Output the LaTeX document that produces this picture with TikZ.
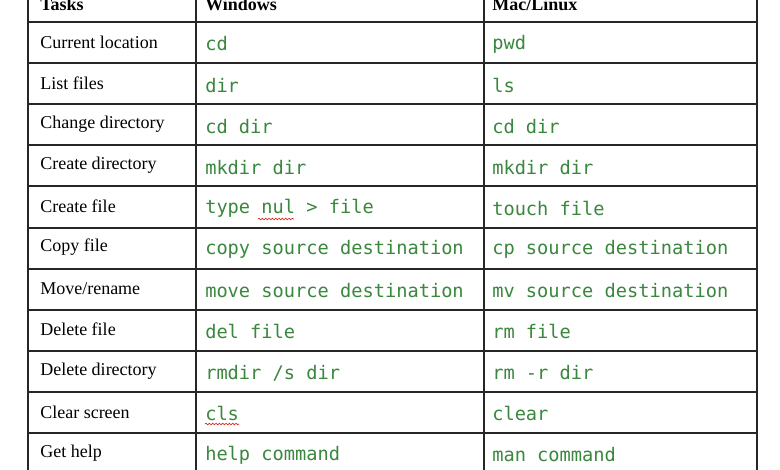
\documentclass[tikz,border=0pt]{standalone}
\usepackage{fontspec}
\setmainfont{Liberation Serif}
\setmonofont{DejaVu Sans Mono}
\usetikzlibrary{decorations.pathmorphing}
\definecolor{codegreen}{RGB}{58,135,62}
\definecolor{squig}{RGB}{220,40,40}
\tikzset{
  grid/.style={line width=1.1pt, draw=black!85},
  task/.style={anchor=west, inner sep=0pt, font=\fontsize{13.5}{16}\selectfont},
  head/.style={anchor=west, inner sep=0pt, font=\fontsize{13.5}{16}\selectfont\bfseries},
  code/.style={anchor=west, inner sep=0pt, text=codegreen, font=\ttfamily\fontsize{14}{16}\selectfont},
  wavy/.style={draw=squig, line width=0.5pt, decorate, decoration={snake, amplitude=0.6pt, segment length=2.5pt}}
}
\begin{document}
\begin{tikzpicture}[x=0.75pt,y=-0.75pt]
\useasboundingbox (0,0) rectangle (780,470);
\clip (0,0) rectangle (780,470);
\fill[white] (0,0) rectangle (780,470);
% grid
\foreach \x in {28,196,484,757} \draw[grid] (\x,-10) -- (\x,480);
\foreach \y in {22,63,104,145,186,228,269,310,351,392,433} \draw[grid] (28,\y) -- (757,\y);
% header
\node[head] (h1) at (40,4) {Tasks};
\node[head] (h2) at (205,4) {Windows};
\node[head] (h3) at (492,4) {Mac/Linux};
% rows
\foreach \i/\t/\w/\m in {
 0/{Current location}/{cd}/{pwd},
 1/{List files}/{dir}/{ls},
 2/{Change directory}/{cd dir}/{cd dir},
 3/{Create directory}/{mkdir dir}/{mkdir dir},
 4/{Create file}/{type nul > file}/{touch file},
 5/{Copy file}/{copy source destination}/{cp source destination},
 6/{Move/rename}/{move source destination}/{mv source destination},
 7/{Delete file}/{del file}/{rm file},
 8/{Delete directory}/{rmdir /s dir}/{rm -r dir},
 9/{Clear screen}/{cls}/{clear},
 10/{Get help}/{help command}/{man command}}{
  \pgfmathsetmacro\yy{22+41.1*\i}
  \node[task] (t\i) at (40,\yy+20) {\t};
  \node[code] (w\i) at (205,\yy+22) {\w};
  \node[code] (m\i) at (492,\yy+22) {\m};
}
% spellcheck squiggles
\coordinate (s1) at (258,228-9);
\coordinate (s2) at (294,228-9);
\draw[wavy] (s1) -- (s2);
\coordinate (s3) at (205,433-9);
\coordinate (s4) at (239,433-9);
\draw[wavy] (s3) -- (s4);
\end{tikzpicture}
\end{document}
